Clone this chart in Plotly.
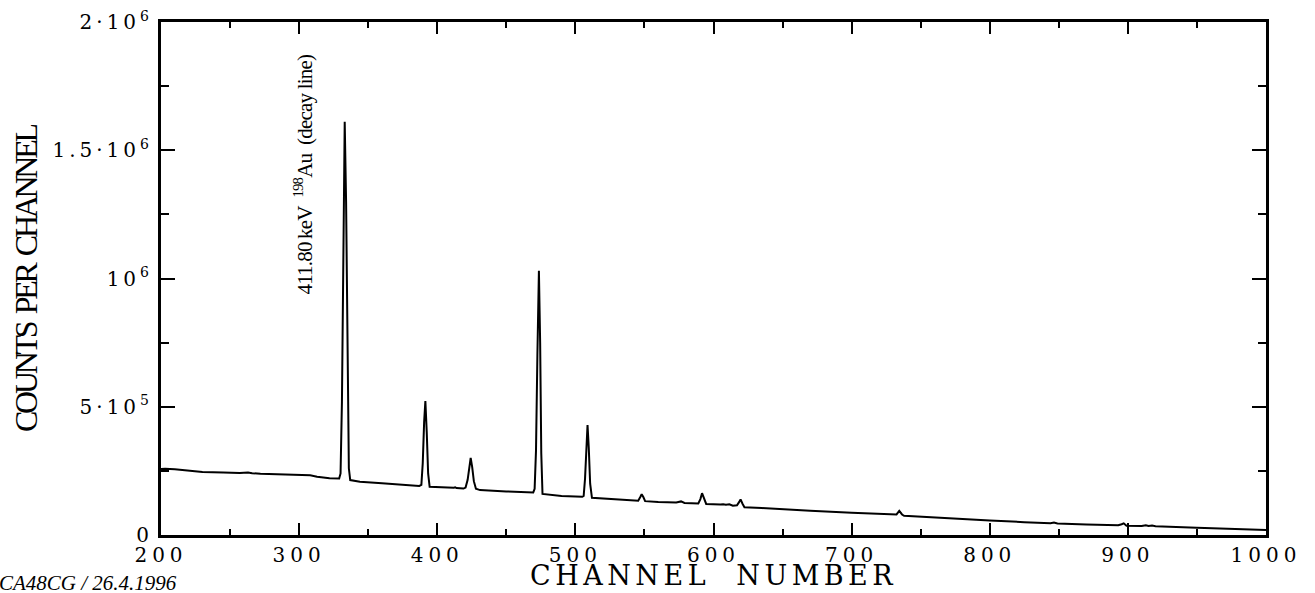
import plotly.graph_objects as go

# Spectrum (channel, counts per channel)
channel = [200, 203, 210, 223, 230, 245, 257, 263, 266, 272, 285, 300, 308, 313, 322, 329,
           330, 331, 332, 333, 334, 335, 336, 337, 344, 360, 375, 387,
           388.5, 389.5, 390.5, 391.4, 392.4, 393.4, 394.5, 405, 412, 413, 414, 419,
           420.5, 422, 423.2, 424.2, 425.3, 426.5, 428, 431, 450, 469.5,
           470.5, 471.5, 472.5, 473.6, 474.5, 475.3, 476.2, 490, 505,
           506, 507, 508, 508.8, 509.7, 510.7, 512, 530, 544,
           545.5, 547, 548, 549.2, 550.5, 560, 573, 576.5, 579, 589,
           590.5, 591.7, 593, 594.7, 605, 607, 609, 611.5, 614,
           617, 618.5, 619.6, 621, 622.4, 635, 653, 670, 700, 715, 730,
           732.5, 734.5, 736.5, 738, 750, 775, 800, 825, 844, 846.5, 849, 870, 893,
           895.5, 897, 899, 905, 910, 913, 915, 917.5, 920, 950, 975, 1000]
counts = [257000, 258000, 256000, 251000, 246000, 244000, 242000, 244000, 241000, 239000, 237000, 236000, 233000, 227000, 221000, 220000,
          240000, 520000, 1150000, 1611000, 1300000, 600000, 260000, 214000, 208000, 202000, 196000, 191000,
          195000, 280000, 440000, 522000, 400000, 240000, 188000, 185000, 184000, 186000, 183000, 181000,
          185000, 215000, 270000, 301000, 265000, 210000, 180000, 175000, 170000, 166000,
          180000, 330000, 700000, 1030000, 750000, 320000, 160000, 152000, 149000,
          152000, 220000, 360000, 429000, 340000, 200000, 145000, 138000, 134000,
          134000, 148000, 159000, 148000, 132000, 129000, 127000, 131000, 125000, 123000,
          140000, 163000, 145000, 121000, 119000, 120000, 118000, 120000, 114000,
          116000, 128000, 139000, 122000, 108000, 105000, 101000, 95000, 87000, 83000, 79000,
          80000, 94000, 80000, 75000, 71000, 64000, 57000, 50000, 46000, 49000, 45000, 41000, 38000,
          42000, 45500, 36000, 35000, 35000, 38000, 35000, 37000, 34000, 28000, 24000, 19500]

x_tickvals = [200, 300, 400, 500, 600, 700, 800, 900, 1000]
x_ticktext = ["200", "300", "400", "500", "600", "700", "800", "900", "1000"]
y_tickvals = [0, 500000, 1000000, 1500000, 2000000]
y_ticktext = ["0", "5·10<sup>5</sup>", "10<sup>6</sup>", "1.5·10<sup>6</sup>", "2·10<sup>6</sup>"]

SERIF = "Liberation Serif"
WIDE = "DejaVu Serif"


def spaced(s, ls):
    return f'<span style="letter-spacing:{ls}px">{s}</span>'


fig = go.Figure()
fig.add_trace(go.Scatter(x=channel, y=counts, mode="lines",
                         line=dict(color="black", width=2), showlegend=False,
                         hoverinfo="skip"))

axis_common = dict(showline=True, linecolor="black", linewidth=3, mirror="allticks",
                   ticks="inside", tickcolor="black", tickwidth=2,
                   showgrid=False, zeroline=False, automargin=False)

fig.update_xaxes(range=[200, 1000], tickvals=x_tickvals,
                 ticktext=[spaced(t, 5) for t in x_ticktext],
                 ticklen=12, ticklabelstandoff=0,
                 tickfont=dict(family=WIDE, size=20, color="black"),
                 minor=dict(dtick=50, tick0=0, ticks="inside", ticklen=6,
                            tickwidth=2, tickcolor="black", showgrid=False),
                 **axis_common)
fig.update_yaxes(range=[0, 2000000], tickvals=y_tickvals,
                 ticktext=[spaced(t, 4) for t in y_ticktext],
                 ticklen=14, ticklabelstandoff=1,
                 tickfont=dict(family=WIDE, size=20, color="black"),
                 minor=dict(dtick=250000, tick0=0, ticks="inside", ticklen=8,
                            tickwidth=2, tickcolor="black", showgrid=False),
                 **axis_common)

annotations = [
    dict(text=spaced("CHANNEL\u00a0\u00a0NUMBER", 4.5), xref="paper", yref="paper",
         x=0.5, y=-0.078, xanchor="center", yanchor="middle", showarrow=False,
         font=dict(family=WIDE, size=27, color="black")),
    dict(text=spaced("COUNTS\u00a0\u00a0PER\u00a0\u00a0CHANNEL", -3.3), xref="paper", yref="paper",
         x=-0.1222, y=0.501, xanchor="center", yanchor="middle", textangle=-90,
         showarrow=False, font=dict(family=SERIF, size=32, color="black")),
    dict(text=spaced("411.80\u2009keV\u00a0\u00a0<sup>198</sup>Au\u00a0\u00a0(decay\u00a0line)", -0.8),
         xref="x", yref="y", x=303.5, y=1409000, xanchor="center", yanchor="middle",
         textangle=-90, showarrow=False, font=dict(family=SERIF, size=21, color="black")),
    dict(text="<i>CA48CG / 26.4.1996</i>", xref="paper", yref="paper",
         x=-0.1484, y=-0.0936, xanchor="left", yanchor="middle", showarrow=False,
         font=dict(family=SERIF, size=21, color="black")),
]

fig.update_layout(width=1315, height=593,
                  margin=dict(l=161, r=49, t=22, b=58),
                  paper_bgcolor="white", plot_bgcolor="white",
                  annotations=annotations)

fig.write_html("out.html", config={"displayModeBar": False},
               post_script="document.body.style.margin='0';")
